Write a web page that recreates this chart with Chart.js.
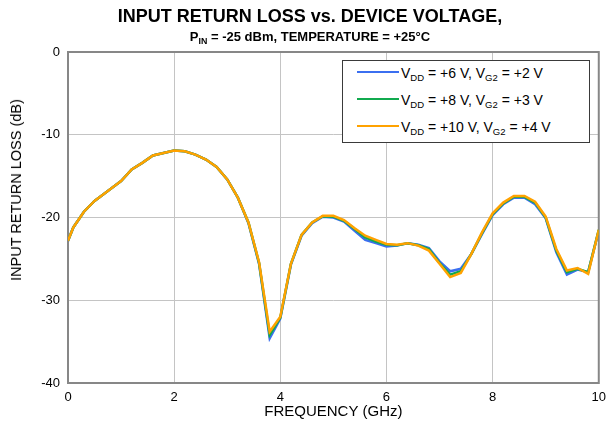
<!DOCTYPE html>
<html>
<head>
<meta charset="utf-8">
<title>Input Return Loss vs. Device Voltage</title>
<script src="https://cdn.jsdelivr.net/npm/chart.js@4.4.1/dist/chart.umd.min.js"></script>
<style>
  html, body { margin: 0; padding: 0; background: #fff; }
  #wrap {
    position: relative; width: 613px; height: 434px;
    font-family: "Liberation Sans", Arial, sans-serif; color: #000;
  }
  #chart { position: absolute; left: 0; top: 0; }
  .title { position: absolute; left: 0; width: 620px; text-align: center; font-weight: bold; white-space: nowrap; }
  #t1 { top: 6px; font-size: 18px; }
  #t2 { top: 29px; font-size: 13px; }
  sub { font-size: 0.68em; vertical-align: -0.3em; line-height: 0; }
  #ytitle {
    position: absolute; left: 16px; top: 190px; font-size: 14.5px; white-space: nowrap;
    transform: translate(-50%, -50%) rotate(-90deg);
  }
  #legend {
    position: absolute; left: 342px; top: 60px; width: 248px; height: 83px;
    border: 1.5px solid #3a3a3a; background: #fff; box-sizing: border-box;
  }
  .row { position: absolute; left: 14px; height: 20px; font-size: 14px; white-space: nowrap; }
  .swatch { display: inline-block; width: 42px; height: 0; border-top: 2.5px solid; vertical-align: middle; margin-right: 2px; position: relative; top: -2px; }
</style>
</head>
<body>
<div id="wrap">
  <canvas id="chart" width="613" height="434"></canvas>
  <div class="title" id="t1">INPUT RETURN LOSS vs. DEVICE VOLTAGE,</div>
  <div class="title" id="t2">P<sub>IN</sub> = -25 dBm, TEMPERATURE = +25°C</div>
  <div id="ytitle">INPUT RETURN LOSS (dB)</div>
  <div id="legend"></div>
</div>
<script>
// ── Data ──
const freqGHz = [0, 0.1, 0.3, 0.5, 0.75, 1.0, 1.2, 1.4, 1.6, 1.8, 2.0, 2.2, 2.4, 2.6, 2.8, 3.0,
  3.2, 3.4, 3.6, 3.8, 4.0, 4.2, 4.4, 4.6, 4.8, 5.0, 5.2, 5.4, 5.6, 5.8, 6.0, 6.2, 6.4, 6.6,
  6.8, 7.0, 7.2, 7.4, 7.6, 7.8, 8.0, 8.2, 8.4, 8.6, 8.8, 9.0, 9.2, 9.4, 9.6, 9.8, 10.0];

const loss6V = [-22.8, -21.2, -19.3, -18.0, -16.8, -15.6, -14.2, -13.4, -12.5, -12.2, -11.9, -12.0,
  -12.4, -13.0, -13.9, -15.4, -17.6, -20.7, -25.6, -34.6, -32.2, -25.7, -22.2, -20.7, -19.9,
  -20.0, -20.5, -21.6, -22.7, -23.1, -23.5, -23.4, -23.1, -23.3, -23.7, -25.3, -26.5, -26.2,
  -24.4, -22.0, -19.7, -18.4, -17.6, -17.6, -18.4, -20.1, -24.2, -26.9, -26.3, -26.6, -21.6];

const loss8V = [-22.8, -21.2, -19.3, -18.0, -16.8, -15.6, -14.2, -13.4, -12.5, -12.2, -11.9, -12.0,
  -12.4, -13.0, -13.9, -15.4, -17.6, -20.6, -25.5, -34.2, -32.1, -25.6, -22.1, -20.6, -19.85,
  -19.9, -20.4, -21.4, -22.4, -22.9, -23.3, -23.35, -23.1, -23.35, -23.8, -25.5, -26.9, -26.5,
  -24.4, -21.9, -19.6, -18.3, -17.5, -17.5, -18.2, -20.0, -24.0, -26.6, -26.2, -26.6, -21.5];

const loss10V = [-22.8, -21.2, -19.3, -18.0, -16.8, -15.6, -14.2, -13.4, -12.5, -12.2, -11.9, -12.0,
  -12.4, -13.0, -13.9, -15.4, -17.6, -20.6, -25.4, -33.8, -32.0, -25.6, -22.1, -20.6, -19.8,
  -19.8, -20.3, -21.3, -22.2, -22.7, -23.2, -23.3, -23.1, -23.4, -24.0, -25.6, -27.2, -26.7,
  -24.4, -21.8, -19.5, -18.2, -17.4, -17.4, -18.1, -19.9, -23.8, -26.4, -26.1, -26.8, -21.5];

const vddLabels = ['+6 V', '+8 V', '+10 V'];
const vg2Labels = ['+2 V', '+3 V', '+4 V'];
const seriesColors = ['#3b6ff0', '#11aa4f', '#ffa200'];
const xTicks = [0, 2, 4, 6, 8, 10];
const yTicks = [-40, -30, -20, -10, 0];

// ── Helpers ──
const toPoints = ys => ys.map((y, i) => ({ x: freqGHz[i], y }));

// frame around the plot area (all four sides)
const framePlugin = {
  id: 'frame',
  beforeDatasetsDraw(chart) {
    const { ctx, chartArea: a } = chart;
    ctx.save();
    ctx.strokeStyle = '#878787';
    ctx.lineWidth = 2;
    ctx.strokeRect(a.left, a.top, a.right - a.left, a.bottom - a.top);
    ctx.restore();
  }
};

// ── Chart ──
Chart.defaults.font.family = "'Liberation Sans', Arial, sans-serif";
Chart.defaults.color = '#000';

const series = [loss6V, loss8V, loss10V];
const datasets = series.map((ys, i) => ({
  label: `VDD = ${vddLabels[i]}, VG2 = ${vg2Labels[i]}`,
  data: toPoints(ys),
  borderColor: seriesColors[i],
  backgroundColor: seriesColors[i],
  borderWidth: 2.5,
  pointRadius: 0,
  tension: 0,
  order: 3 - i
}));

new Chart(document.getElementById('chart'), {
  type: 'line',
  data: { datasets },
  options: {
    responsive: false,
    animation: false,
    layout: { padding: { top: 52, right: 12, left: 0, bottom: 0 } },
    plugins: { legend: { display: false }, tooltip: { enabled: false } },
    scales: {
      x: {
        type: 'linear', min: 0, max: 10,
        afterFit: s => { s.height = 51; },
        afterBuildTicks: s => { s.ticks = xTicks.map(v => ({ value: v })); },
        grid: { color: '#c4c4c4', lineWidth: 1, drawTicks: false },
        border: { display: false },
        ticks: { font: { size: 13 }, padding: 7, color: '#000' },
        title: { display: true, text: 'FREQUENCY (GHz)', font: { size: 15 }, padding: { top: 0, bottom: 13 }, color: '#000' }
      },
      y: {
        min: -40, max: 0,
        afterFit: s => { s.width = 68; },
        afterBuildTicks: s => { s.ticks = yTicks.map(v => ({ value: v })); },
        grid: { color: '#c4c4c4', lineWidth: 1, drawTicks: false },
        border: { display: false },
        ticks: { font: { size: 13 }, padding: 8, color: '#000' }
      }
    }
  },
  plugins: [framePlugin]
});

// ── Legend (HTML, for the subscripts) ──
const legend = document.getElementById('legend');
vddLabels.forEach((vdd, i) => {
  const row = document.createElement('div');
  row.className = 'row';
  row.style.top = (4 + i * 27) + 'px';
  row.innerHTML = `<span class="swatch" style="border-color:${seriesColors[i]}"></span>` +
    `V<sub>DD</sub> = ${vdd}, V<sub>G2</sub> = ${vg2Labels[i]}`;
  legend.appendChild(row);
});
</script>
</body>
</html>
